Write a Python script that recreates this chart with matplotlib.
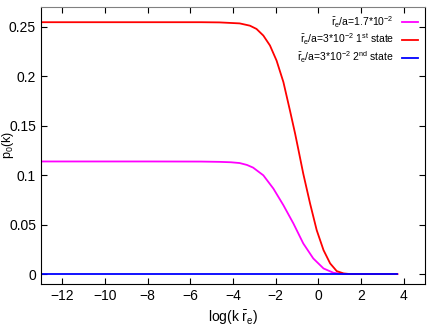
import matplotlib
matplotlib.use("Agg")
import matplotlib.pyplot as plt

plt.rcParams['font.family'] = ['Liberation Sans', 'DejaVu Sans']
plt.rcParams['mathtext.fontset'] = 'custom'
plt.rcParams['mathtext.rm'] = 'Liberation Sans'
plt.rcParams['mathtext.it'] = 'Liberation Sans'
plt.rcParams['mathtext.default'] = 'regular'

x_red = [-13, -8, -5.5, -4.63, -3.69, -3.21, -2.90, -2.58, -2.27, -1.96, -1.64,
         -1.33, -1.09, -0.94, -0.71, -0.39, -0.08, 0.24, 0.55, 0.86, 1.18, 1.5, 3.7]
y_red = [0.2545, 0.2545, 0.2545, 0.2543, 0.2533, 0.251, 0.2477, 0.241, 0.231, 0.2157, 0.194,
         0.165, 0.1418, 0.126, 0.1015, 0.0713, 0.0444, 0.0242, 0.0108, 0.003, 0.0007, 0.0, 0.0]

x_mag = [-13, -8, -5.5, -4.63, -4.1, -3.69, -3.35, -3.06, -2.58, -2.11, -1.64, -1.17, -0.71,
         -0.24, 0.24, 0.71, 1.18, 1.5, 3.7]
y_mag = [0.1138, 0.1138, 0.1137, 0.1134, 0.1130, 0.1122, 0.1103, 0.1076, 0.0998, 0.0864, 0.0696,
         0.0511, 0.031, 0.0158, 0.0057, 0.0013, 0.0001, 0.0, 0.0]

x_blue = [-13, 3.7]
y_blue = [0.0, 0.0]

labels = [r'$\bar{r}_e$/a=1.7*10$^{-2}$',
          r'$\bar{r}_e$/a=3*10$^{-2}$ 1$^{st}$ state',
          r'$\bar{r}_e$/a=3*10$^{-2}$ 2$^{nd}$ state']

fig = plt.figure(figsize=(4.36, 3.27), dpi=100)
ax = fig.add_axes([0.094, 0.1315, 0.881, 0.8475])

ax.plot(x_mag, y_mag, color='#ff00ff', lw=1.3, label=labels[0])
ax.plot(x_red, y_red, color='#ff0000', lw=1.3, label=labels[1])
ax.plot(x_blue, y_blue, color='#0000ff', lw=1.3, label=labels[2])

ax.set_xlim(-13, 5)
ax.set_ylim(-0.01, 0.27)
ax.set_xticks([-12, -10, -8, -6, -4, -2, 0, 2, 4])
ax.set_yticks([0, 0.05, 0.1, 0.15, 0.2, 0.25])
ax.set_yticklabels(['0', '0.05', '0.1', '0.15', '0.2', '0.25'])
ax.tick_params(direction='in', top=True, right=True, labelsize=10, length=4)
ax.spines['top'].set_color('#808080')

ax.set_xlabel(r'log(k $\bar{r}_e$)', fontsize=10)
ax.set_ylabel(r'p$_0$(k)', fontsize=9)
ax.yaxis.set_label_coords(-0.066, 0.5)

ax.legend(loc='upper right', fontsize=7.5, frameon=False, markerfirst=False,
          handlelength=1.5, labelspacing=0.2, borderaxespad=0.3)

fig.savefig('out.png', dpi=100)
